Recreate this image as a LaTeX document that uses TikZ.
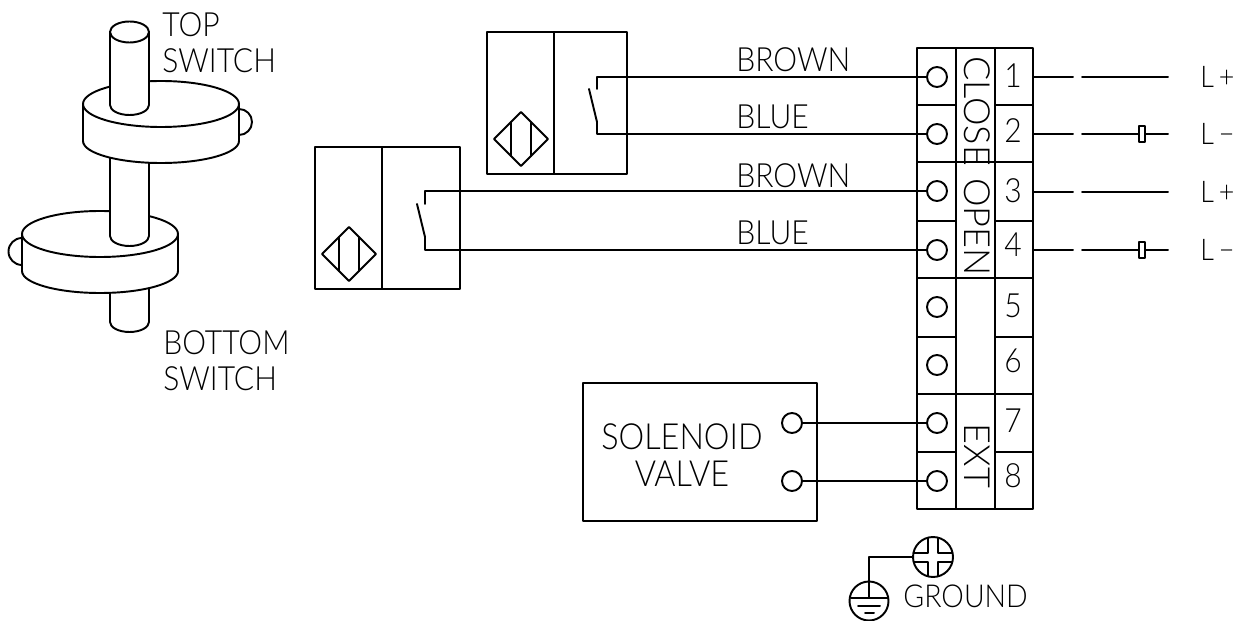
\documentclass[tikz,border=0pt]{standalone}
\usepackage{fontspec}
\setmainfont{Lato}[UprightFont=* Light, FakeStretch=0.9]
\newfontfamily\vertfont{Lato}[UprightFont=* Light]
\usetikzlibrary{calc}
\tikzset{wire/.style={line width=1.1pt, line cap=round, line join=round},
  term/.style={circle, draw, wire, fill=white, inner sep=0pt, minimum size=0.4cm},
  labl/.style={inner sep=0pt, font=\fontsize{19}{20.4}\selectfont},
  vertlabl/.style={inner sep=0pt, rotate=-90, font=\vertfont\fontsize{20.5}{21}\selectfont},
  fuse/.style={rectangle, draw, wire, fill=white, inner sep=0pt, minimum width=0.12cm, minimum height=0.32cm},
}
\tikzset{pics/.cd, prox/.style args={#1:#2}{code={
\draw [wire] (0,0) rectangle (#1,142);
\draw [wire] (#2,0) -- (#2,142);
\draw [wire] (34,80) -- (61,107) -- (34,134) -- (7,107) -- cycle;
\draw [wire] (24,90) -- (24,124) (44,90) -- (44,124);
\coordinate (-open) at (110,57);
\coordinate (-hinge) at (110,90);
\draw [wire] (102,57) -- (-hinge);
}}}
\tikzset{pics/.cd, disc/.style={code={
\draw [wire, fill=white] (-78,0) -- (-78,37) arc [start angle=180, end angle=0, x radius=78, y radius=22] -- (78,0) -- cycle;
\draw [wire, fill=white] (0,0) ellipse [x radius=78, y radius=23];
}}}
\begin{document}
\begin{tikzpicture}[x=0.02cm, y=-0.02cm]
  \useasboundingbox (0,0) rectangle (1243,621);
  % shaft and the two discs
  \draw [wire, fill=white] (110,280) -- (110,322) arc [start angle=180, end angle=0, x radius=19.5, y radius=10] -- (149,280);
  \draw [wire] (22,238) arc [start angle=-90, end angle=-270, radius=13.5];
  \pic at (100,234) {disc};
  \draw [wire, fill=white] (110,150) -- (110,236) arc [start angle=180, end angle=0, x radius=19.5, y radius=10] -- (149,150);
  \draw [wire] (239,109) arc [start angle=-90, end angle=90, radius=13];
  \pic at (161,104) {disc};
  \draw [wire, fill=white] (110,32) -- (110,105) arc [start angle=180, end angle=0, x radius=19.5, y radius=10] -- (149,32) -- cycle;
  \draw [wire, fill=white] (129.5,32) ellipse [x radius=19.5, y radius=10.5];
  \node [labl, align=left, anchor=north west] (toplabl) at (162,12) {TOP\\SWITCH};
  \node [labl, align=left, anchor=north west] (botlabl) at (163,330) {BOTTOM\\SWITCH};
  % terminal block
  \draw [wire] (917,48) rectangle (1033,509);
  \draw [wire] (956,48) -- (956,509) (995,48) -- (995,509);
  \foreach \y in {105,221,337,452}
    \draw [wire] (917,\y) -- (956,\y) (995,\y) -- (1033,\y);
  \foreach \y in {162,278,394}
    \draw [wire] (917,\y) -- (1033,\y);
  \foreach \i/\y/\n in {1/77/76,2/134/131,3/191/191,4/250/245,5/307/306,6/365/361,7/423/421,8/481/476} {
    \node [term] (t\i) at (937,\y) {};
    \node [labl, font=\fontsize{19}{19}\selectfont] (n\i) at (1013,\n) {\i};
  }
  \node [vertlabl] (close) at (977,111) {CLOSE};
  \node [vertlabl] (open) at (977,227) {OPEN};
  \node [vertlabl] (ext) at (977,456) {EXT};
  % supply side
  \foreach \i/\y/\s in {1/77/+,2/134/−,3/192/+,4/250/−} {
    \coordinate (a\i) at (1033,\y);
    \coordinate (b\i) at (1073,\y);
    \coordinate (c\i) at (1082,\y);
    \coordinate (d\i) at (1168,\y);
    \draw [wire] (a\i) -- (b\i);
    \draw [wire] (c\i) -- (d\i);
    \node [labl, font=\fontsize{17}{17}\selectfont, anchor=west] (sup\i) at (1200,\y) {L\,\s};
  }
  \node [fuse] (f2) at (1142,134) {};
  \node [fuse] (f4) at (1142,250) {};
  % the two sensors
  \pic (sa) at (487,32) {prox=140:67};
  \pic (sb) at (315,147) {prox=145:67};
  \draw [wire] (t1.west) -| (sa-open);
  \draw [wire] (t2.west) -| (sa-hinge);
  \draw [wire] (t3.west) -| (sb-open);
  \draw [wire] (t4.west) -| (sb-hinge);
  \node [labl, anchor=west] (brna) at (736,60) {BROWN};
  \node [labl, anchor=west] (blua) at (736,117) {BLUE};
  \node [labl, anchor=west] (brnb) at (736,176) {BROWN};
  \node [labl, anchor=west] (blub) at (736,233) {BLUE};
  % solenoid
  \draw [wire] (583,383) rectangle (817,521);
  \node [term] (va) at (792,423) {};
  \node [term] (vb) at (792,481) {};
  \draw [wire] (va) -- (t7);
  \draw [wire] (vb) -- (t8);
  \node [labl, align=center, font=\fontsize{20.5}{21}\selectfont] (sol) at (682,455) {SOLENOID\\VALVE};
  % ground
  \node [term, minimum size=0.8cm] (scr) at (933,557) {};
  \node [term, minimum size=0.78cm] (gnd) at (869,601) {};
  \draw [wire] (scr.west) -| (gnd.north);
  \draw [wire] (928,538) |- (914,553) (938,538) |- (952,553) (928,576) |- (914,562) (938,576) |- (952,562);
  \draw [wire] (869,582) -- (869,598) (851,598) -- (888,598) (858,606) -- (880,606) (865,613) -- (874,613);
  \node [labl, anchor=west, font=\fontsize{18}{18}\selectfont] (gndlabl) at (903,596) {GROUND};
\end{tikzpicture}
\end{document}
